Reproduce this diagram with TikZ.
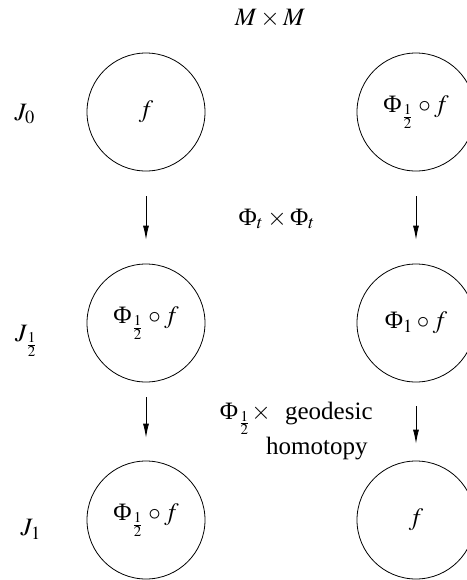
\documentclass[tikz,border=0pt]{standalone}
\usepackage{mathptmx}
\usepackage{fontspec}
\setmainfont{Liberation Serif}
\usetikzlibrary{arrows.meta}
\newcommand{\PHI}{\mathord{\mbox{Φ}}}
\begin{document}
\begin{tikzpicture}[x=0.5pt,y=-0.5pt,
  every node/.style={font=\fontsize{12.5}{14.5}\selectfont},
  ring/.style={circle,draw,line width=0.4pt,minimum size=59pt,inner sep=0pt},
  map/.style={line width=0.4pt,-{Latex[length=7pt,width=3pt]}},
  lab/.style={inner sep=0pt}]
\useasboundingbox (0,0) rectangle (467,580);
\node[lab] (mm) at (270,18) {$M\times M$};
\node[lab] (j0) at (25,114) {$J_0$};
\node[lab] (jh) at (27,341) {$J_{\frac12}$};
\node[lab] (j1) at (31,529) {$J_1$};
\node[ring] (a1) at (146,112) {$f$};
\node[ring] (b1) at (416,112) {$\PHI_{\frac12}\circ f$};
\node[ring] (a2) at (146,323) {$\PHI_{\frac12}\circ f$};
\node[ring] (b2) at (416,323) {$\PHI_1\circ f$};
\node[ring] (a3) at (146,520) {$\PHI_{\frac12}\circ f$};
\node[ring] (b3) at (416,520) {$f$};
\node[lab] (t1) at (277,219) {$\PHI_t\times\PHI_t$};
\node[lab,align=right,anchor=north east] (t2) at (373,402) {$\PHI_{\frac12}\times$\hspace{4pt} geodesic\\homotopy\rule{2.5pt}{0pt}};
\draw[map,shorten <=12.5pt,shorten >=12pt] (a1) -- (a2);
\draw[map,shorten <=12.5pt,shorten >=12pt] (b1) -- (b2);
\draw[map,shorten <=7.5pt,shorten >=11.5pt] (a2) -- (a3);
\draw[map,shorten <=12pt,shorten >=8.5pt] (b2) -- (b3);
\end{tikzpicture}
\end{document}
